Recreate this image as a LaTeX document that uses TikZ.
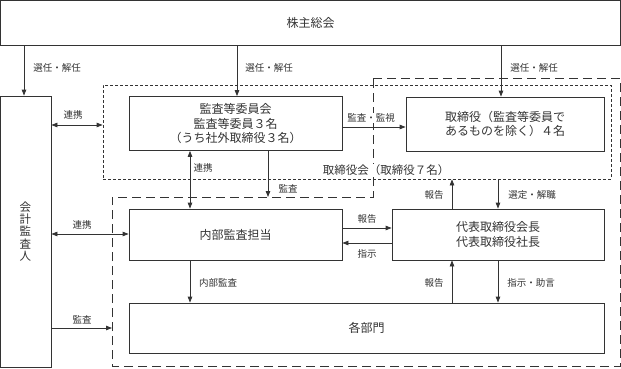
\documentclass[tikz,border=0pt]{standalone}
\usepackage{fontspec}
\setmainfont{Noto Sans CJK JP}
\usepackage{tikz}
\usetikzlibrary{arrows.meta}

\begin{document}
\begin{tikzpicture}[x=1pt, y=-1pt, line width=0.8pt, color=black!80,
    >={Triangle[length=6pt, width=4.5pt]},
    box/.style={draw, rectangle, align=center, inner sep=0pt, font=\fontsize{12}{14.5}\selectfont},
    lbl/.style={fill=white, inner sep=1pt, font=\fontsize{9.5}{11}\selectfont},
    finedash/.style={draw, dash pattern=on 3pt off 2pt},
    longdash/.style={draw, dash pattern=on 9pt off 5pt}]
    \useasboundingbox (0,0) rectangle (621,368);

    % dashed groups
    \node[finedash, minimum width=508pt, minimum height=94pt] at (357, 132) (board) {};
    \draw[longdash] (373,78) -- (620,78) -- (620,366) -- (112,366) -- (112,197) -- (373,197) -- cycle;
    \coordinate (execW) at (112, 328);
    \coordinate (execN) at (268, 197);

    \node[box, minimum width=620pt, minimum height=45pt] at (310.5, 22.5) (meeting) {株主総会};
    \node[box, minimum width=51pt, minimum height=271pt, font=\fontsize{11.5}{12.3}\selectfont] at (25.5, 231.5) (auditor) {会\\計\\監\\査\\人};
    \node[box, minimum width=213pt, minimum height=54pt] at (235.5, 123.5) (committee) {監査等委員会\\監査等委員３名\\（うち社外取締役３名）};
    \node[box, minimum width=198pt, minimum height=54pt] at (505, 124) (directors) {取締役（監査等委員で\\あるものを除く）４名};
    \node[box, minimum width=213pt, minimum height=51pt] at (235.5, 234.5) (internal) {内部監査担当};
    \node[box, minimum width=212pt, minimum height=51pt] at (498, 234.5) (president) {代表取締役会長\\代表取締役社長};
    \node[box, minimum width=475pt, minimum height=50pt] at (366.5, 328) (divisions) {各部門};

    \draw[->] (24,0 |- meeting.south) -- (24,0 |- auditor.north);
    \draw[->] (237,0 |- meeting.south) -- (237,0 |- committee.north);
    \draw[->] (501,0 |- meeting.south) -- (501,0 |- directors.north);

    \draw[<->] (auditor.east |- 0,125) -- (board.west |- 0,125);
    \draw[->] (committee.east |- 0,127) -- (directors.west |- 0,127);
    \draw[<->] (190,0 |- committee.south) -- (190,0 |- internal.north);
    \draw[->] (268,0 |- committee.south) -- (execN);

    \draw[<->] (auditor.east |- 0,234) -- (internal.west |- 0,234);
    \draw[->] (auditor.east |- execW) -- (execW);
    \draw[->] (190,0 |- internal.south) -- (190,0 |- divisions.north);

    \draw[->] (internal.east |- 0,228) -- (president.west |- 0,228);
    \draw[->] (president.west |- 0,243) -- (internal.east |- 0,243);
    \draw[->] (452,0 |- president.north) -- (452,0 |- board.south);
    \draw[->] (498,0 |- board.south) -- (498,0 |- president.north);
    \draw[->] (452,0 |- divisions.north) -- (452,0 |- president.south);
    \draw[->] (498,0 |- president.south) -- (498,0 |- divisions.north);

    \node[lbl] at (57, 68) (l1) {選任・解任};
    \node[lbl] at (269, 68) (l2) {選任・解任};
    \node[lbl] at (534, 68) (l3) {選任・解任};
    \node[lbl] at (73, 115) (l4) {連携};
    \node[lbl] at (371, 118) (l5) {監査・監視};
    \node[lbl] at (203, 168) (l6) {連携};
    \node[lbl] at (288, 189) (l7) {監査};
    \node[lbl, font=\fontsize{11.5}{13}\selectfont] at (386, 170) (boardname) {取締役会（取締役７名）};
    \node[lbl] at (82, 225) (l8) {連携};
    \node[lbl] at (82, 320) (l9) {監査};
    \node[lbl] at (218, 283) (l10) {内部監査};
    \node[lbl] at (367, 219) (l11) {報告};
    \node[lbl] at (367, 254) (l12) {指示};
    \node[lbl] at (434, 195) (l13) {報告};
    \node[lbl] at (532, 195) (l14) {選定・解職};
    \node[lbl] at (434, 283) (l15) {報告};
    \node[lbl] at (531, 283) (l16) {指示・助言};
\end{tikzpicture}
\end{document}
